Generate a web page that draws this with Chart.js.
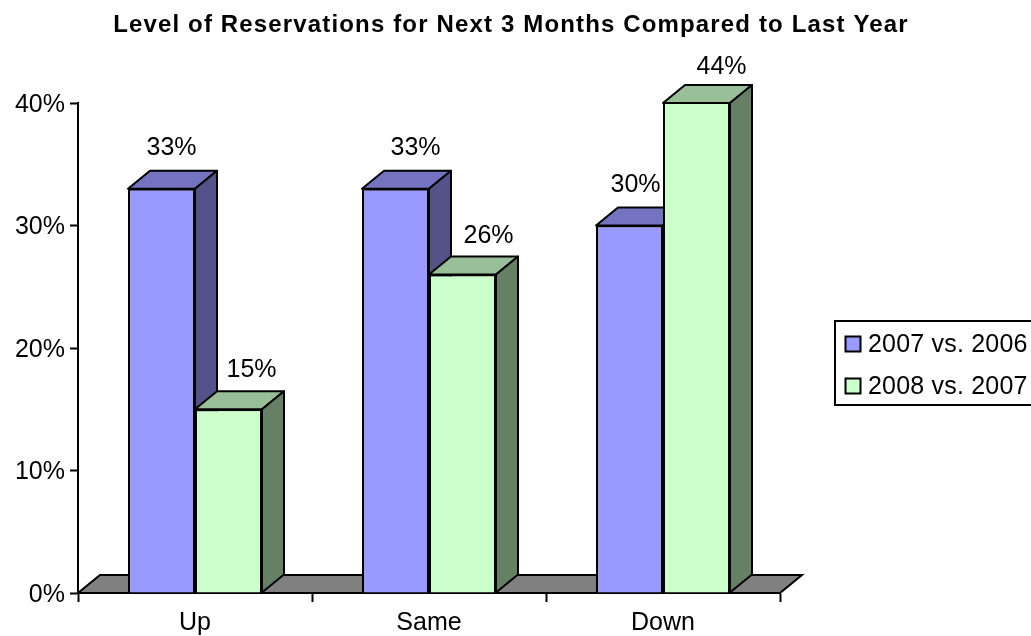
<!DOCTYPE html>
<html>
<head>
<meta charset="utf-8">
<style>
  html, body { margin: 0; padding: 0; background: #fff; overflow: hidden; }
  #wrap { width: 1031px; height: 636px; }
</style>
</head>
<body>
<div id="wrap"><canvas id="myChart" width="1031" height="636"></canvas></div>
<script src="https://cdn.jsdelivr.net/npm/chart.js@4"></script>
<script>
const chartTitle = 'Level of Reservations for Next 3 Months Compared to Last Year';
const categories = ['Up', 'Same', 'Down'];
const seriesNames = ['2007 vs. 2006', '2008 vs. 2007'];
const values2007 = [33, 33, 30];
const values2008 = [15, 26, 44];
const yTicks = [0, 10, 20, 30, 40];

const frontColors = ['#9999FF', '#CCFFCC'];
const topColors = ['#7373BF', '#99BF99'];
const sideColors = ['#53538A', '#668066'];

// 3D depth of the bars and floor
const depthX = 22;
const depthY = 18;
const lineW = 2;

// manual placement of the value labels, relative to the bar top
const labelNudgeX = [[10, 20, 6], [23, 26, 25]];
const labelNudgeY = [[-41, -41, -40], [-39, -38, -36]];

const font = '"Liberation Sans", Arial, sans-serif';

function poly(ctx, pts, fill) {
    ctx.beginPath();
    ctx.moveTo(pts[0][0], pts[0][1]);
    for (let i = 1; i < pts.length; i++) ctx.lineTo(pts[i][0], pts[i][1]);
    ctx.closePath();
    ctx.fillStyle = fill;
    ctx.fill();
    ctx.stroke();
}

function drawFaces(chart, s) {
    const a = chart.chartArea;
    const ctx = chart.ctx;
    ctx.save();
    ctx.strokeStyle = '#000';
    ctx.lineWidth = lineW;
    ctx.lineJoin = 'round';
    chart.getDatasetMeta(s).data.forEach(bar => {
        // values above the axis maximum are cut at the top of the axis
        const y = Math.max(bar.y, a.top);
        const l = bar.x - bar.width / 2;
        const r = bar.x + bar.width / 2;
        poly(ctx, [[l, y], [l + depthX, y - depthY], [r + depthX, y - depthY], [r, y]], topColors[s]);
        poly(ctx, [[r, y], [r + depthX, y - depthY], [r + depthX, bar.base - depthY], [r, bar.base]], sideColors[s]);
    });
    ctx.restore();
}

const fake3d = {
    id: 'fake3d',
    beforeDatasetsDraw(chart) {
        const a = chart.chartArea;
        const ctx = chart.ctx;
        ctx.save();
        ctx.strokeStyle = '#000';
        ctx.lineWidth = lineW;
        poly(ctx, [[a.left, a.bottom], [a.left + depthX, a.bottom - depthY],
            [a.right + depthX, a.bottom - depthY], [a.right, a.bottom]], '#808080');
        ctx.restore();
        // chart.js paints the last dataset first, the first series sits behind the second
        drawFaces(chart, 0);
    },
    afterDatasetDraw(chart, args) {
        if (args.index === 1) drawFaces(chart, 1);
    },
    afterDraw(chart) {
        const ctx = chart.ctx;
        ctx.save();

        // title
        ctx.fillStyle = '#000';
        ctx.textBaseline = 'middle';
        ctx.textAlign = 'center';
        ctx.font = 'bold 24px ' + font;
        ctx.letterSpacing = '1.15px';
        ctx.fillText(chartTitle, 511, 25);

        // value labels
        ctx.letterSpacing = '0px';
        ctx.font = '25px ' + font;
        chart.data.datasets.forEach((ds, s) => {
            chart.getDatasetMeta(s).data.forEach((bar, i) => {
                const y = Math.max(bar.y, chart.chartArea.top);
                ctx.fillText(ds.data[i] + '%', bar.x + labelNudgeX[s][i], y + labelNudgeY[s][i]);
            });
        });

        // legend, runs off the right edge like the original
        ctx.strokeStyle = '#000';
        ctx.lineWidth = lineW;
        ctx.fillStyle = '#fff';
        ctx.fillRect(835, 321, 200, 84);
        ctx.strokeRect(835, 321, 200, 84);
        ctx.textAlign = 'left';
        ctx.letterSpacing = '0.2px';
        seriesNames.forEach((name, s) => {
            const y = 344 + s * 42;
            ctx.fillStyle = frontColors[s];
            ctx.fillRect(845.5, y - 7.5, 15, 15);
            ctx.strokeRect(845.5, y - 7.5, 15, 15);
            ctx.fillStyle = '#000';
            ctx.fillText(name, 868, y + 1);
        });
        ctx.restore();
    }
};

const ctx = document.getElementById('myChart').getContext('2d');
const myChart = new Chart(ctx, {
    type: 'bar',
    data: {
        labels: categories,
        datasets: [
            { label: seriesNames[0], data: values2007, backgroundColor: frontColors[0] },
            { label: seriesNames[1], data: values2008, backgroundColor: frontColors[1] }
        ].map(ds => Object.assign(ds, {
            borderColor: '#000',
            borderWidth: lineW,
            barPercentage: 1,
            categoryPercentage: 0.5726
        }))
    },
    options: {
        responsive: false,
        animation: false,
        layout: { padding: { left: 0, right: 251, top: 103, bottom: 0 } },
        plugins: {
            legend: { display: false },
            title: { display: false },
            tooltip: { enabled: false }
        },
        scales: {
            x: {
                afterFit(axis) { axis.height = 43; },
                border: { color: '#000', width: lineW },
                grid: { drawOnChartArea: false, color: '#000', tickColor: '#000', tickWidth: lineW, tickLength: 9 },
                ticks: { color: '#000', padding: 6, maxRotation: 0, font: { family: font, size: 25 } }
            },
            y: {
                min: 0,
                max: 40,
                afterFit(axis) { axis.width = 78; },
                afterBuildTicks(axis) { axis.ticks = yTicks.map(v => ({ value: v })); },
                border: { color: '#000', width: lineW },
                grid: { drawOnChartArea: false, color: '#000', tickColor: '#000', tickWidth: lineW, tickLength: 8 },
                ticks: { color: '#000', padding: 5, labelOffset: 2, font: { family: font, size: 25 }, callback: v => v + '%' }
            }
        }
    },
    plugins: [fake3d]
});
</script>
</body>
</html>
